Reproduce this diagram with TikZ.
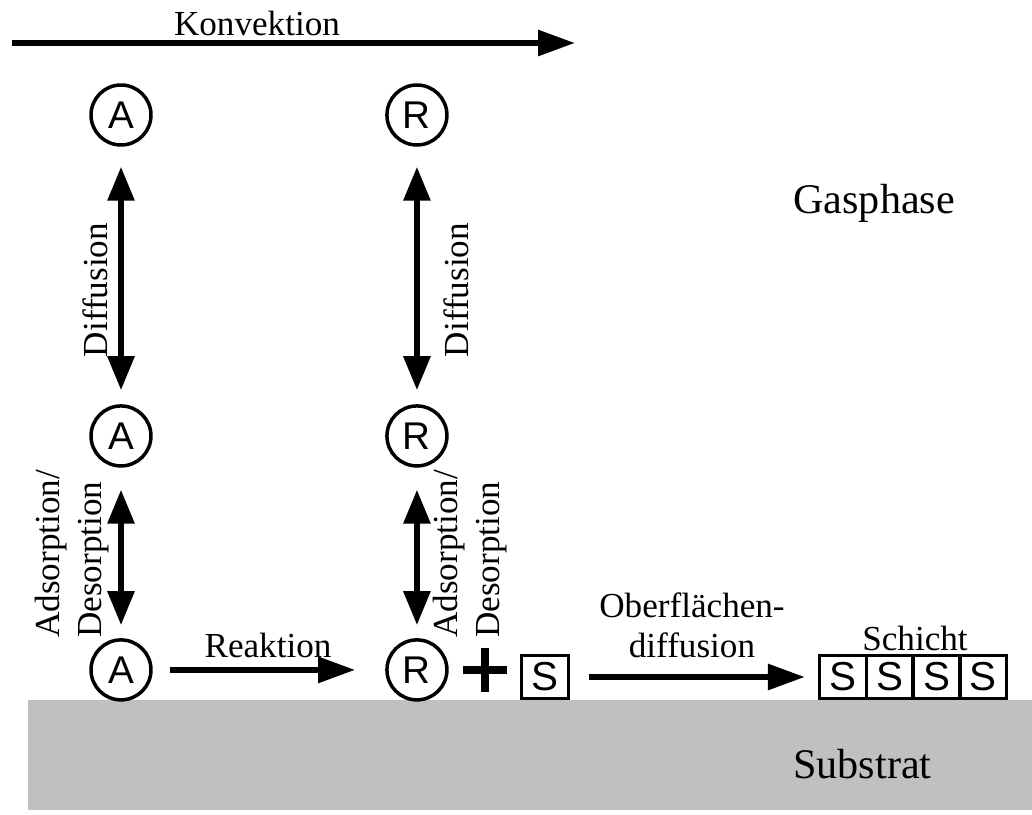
\documentclass[tikz,border=0pt]{standalone}
\usepackage{fontspec}
\setmainfont{Liberation Serif}
\setsansfont{Liberation Sans}
\usepackage{tikz}
\usetikzlibrary{arrows.meta,positioning}
\pgfdeclarelayer{background layer}
\pgfsetlayers{background layer,main}
\definecolor{substrat}{RGB}{192,192,192}

\begin{document}
\begin{tikzpicture}[x=0.02cm,y=-0.02cm]
\tikzstyle{particle}=[draw=black,circle,line width=0.07cm,inner sep=0pt,minimum size=1.2cm,font=\sffamily\fontsize{22}{24}\selectfont]
\tikzstyle{species}=[draw=black,rectangle,line width=0.07cm,inner sep=0pt,minimum width=0.935cm,minimum height=0.86cm,font=\sffamily\fontsize{23}{24}\selectfont]
\tikzstyle{arrow}=[line width=0.12cm,-{Triangle[length=0.74cm,width=0.5cm]}]
\tikzstyle{twoway}=[line width=0.12cm,{Triangle[length=0.68cm,width=0.52cm]}-{Triangle[length=0.68cm,width=0.52cm]}]
\tikzstyle{txt}=[font=\fontsize{20}{23}\selectfont,inner sep=0pt]
\tikzstyle{phase}=[font=\fontsize{24}{28}\selectfont,inner sep=0pt,anchor=base west]
\useasboundingbox (0,0) rectangle (1032,815);
\node [particle] at (121,115) (a1) {A};
\node [particle,below of=a1,node distance=6.42cm] (a2) {A};
\node [particle,below of=a2,node distance=4.68cm] (a3) {A};
\node [particle,right of=a1,node distance=5.92cm] (r1) {R};
\node [particle,right of=a2,node distance=5.92cm] (r2) {R};
\node [particle,right of=a3,node distance=5.92cm] (r3) {R};
\node [species] at (545,677) (s0) {S};
\node [species] at (843,677) (s1) {S};
\node [species,right of=s1,node distance=0.935cm] (s2) {S};
\node [species,right of=s2,node distance=0.935cm] (s3) {S};
\node [species,right of=s3,node distance=0.935cm] (s4) {S};
\coordinate (k0) at (12,43);
\coordinate (k1) at (575,43);
\coordinate (plus) at (485,670);
\draw [arrow] (k0) -- (k1);
\draw [twoway,shorten <=0.28cm,shorten >=0.4cm] (a2) -- (a1);
\draw [twoway,shorten <=0.26cm,shorten >=0.44cm] (a3) -- (a2);
\draw [twoway,shorten <=0.28cm,shorten >=0.4cm] (r2) -- (r1);
\draw [twoway,shorten <=0.26cm,shorten >=0.44cm] (r3) -- (r2);
\draw [arrow,shorten <=0.34cm,shorten >=0.6cm] (a3) -- (r3);
\draw [arrow,shorten <=0.38cm,shorten >=0.26cm] (s0) -- (s1);
\draw [line width=0.15cm] (plus) ++(0,-22) -- ++(0,44) (plus) ++(-22,0) -- ++(44,0);
\node [txt,anchor=base] at (257,35) (konv) {Konvektion};
\node [txt,rotate=90] at (95,290) (diffa) {Diffusion};
\node [txt,rotate=90] at (456,290) (diffr) {Diffusion};
\node [txt,rotate=90,align=left,anchor=west,font=\fontsize{20}{24}\selectfont] at (72,638) (adsa) {Adsorption/\\Desorption};
\node [txt,rotate=90,align=left,anchor=west,font=\fontsize{20}{24}\selectfont] at (470,638) (adsr) {Adsorption/\\Desorption};
\node [txt] at (268,645) (reak) {Reaktion};
\node [txt,align=center] at (692,625) (ofd) {Oberflächen-\\diffusion};
\node [txt,anchor=base] at (915,650) (schicht) {Schicht};
\node [phase] at (793,213) (gas) {Gasphase};
\node [phase] at (793,778) (sub) {Substrat};
\begin{pgfonlayer}{background layer}
\fill [substrat] (28,700) rectangle (1032,810);
\end{pgfonlayer}
\end{tikzpicture}
\end{document}
